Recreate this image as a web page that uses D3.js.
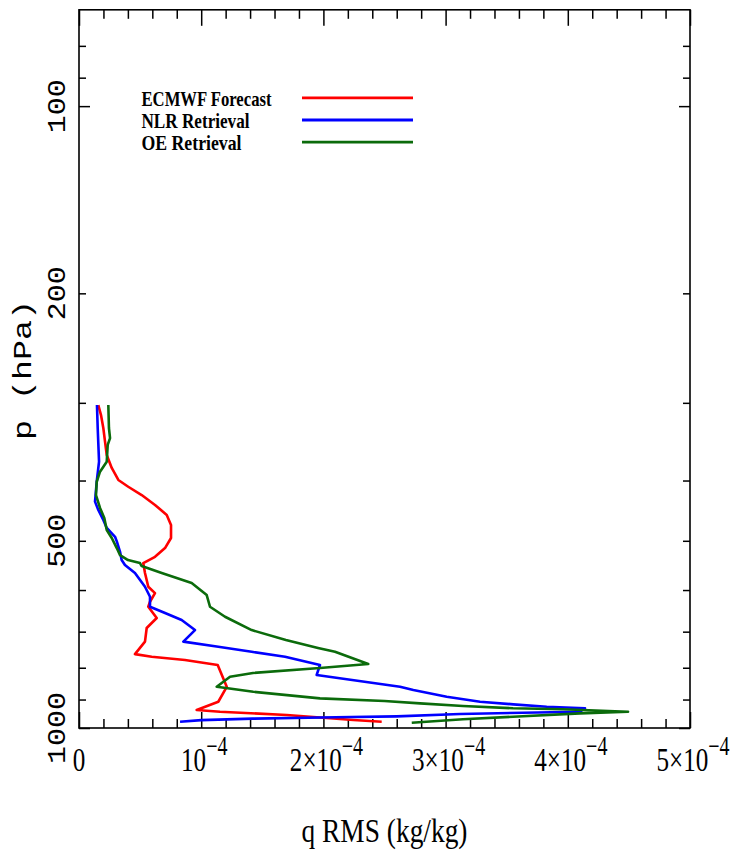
<!DOCTYPE html>
<html>
<head>
<meta charset="utf-8">
<script src="https://cdn.jsdelivr.net/npm/d3@7"></script>
<style>
  html, body { margin: 0; padding: 0; background: #fff; }
  svg { display: block; }
</style>
</head>
<body>
<svg id="chart" width="733" height="851"></svg>
<script>
// Humidity RMS profiles; q values are given in units of 1e-4 kg/kg
const Q_UNIT = 1e-4;

const ecmwfP = [302.5, 313.9, 329.3, 346.4, 363.9, 381.8, 399.2, 409.3, 422.1, 437.8, 454.3, 471.6,
  494.9, 513.6, 530.5, 542.9, 563.4, 592.8, 606.8, 626.6, 638.3, 665.4, 690.6, 726.3, 760.6, 768.0,
  777.6, 792.0, 858.4, 907.4, 935.6, 941.5, 953.0, 970.7, 976.9];
const ecmwfQ = [0.158, 0.180, 0.199, 0.213, 0.227, 0.268, 0.322, 0.403, 0.513, 0.622, 0.718, 0.753,
  0.753, 0.704, 0.622, 0.526, 0.540, 0.567, 0.622, 0.581, 0.567, 0.636, 0.554, 0.540, 0.458, 0.595,
  0.867, 1.135, 1.209, 1.140, 0.963, 1.154, 1.700, 2.245, 2.477];

const nlrP = [302.5, 329.3, 373.0, 401.8, 432.5, 446.0, 462.9, 476.8, 492.6, 501.6, 520.8, 537.0,
  547.0, 563.4, 592.8, 615.1, 638.3, 653.2, 670.3, 695.9, 726.3, 740.1, 754.2, 768.0, 792.0, 821.7,
  858.4, 869.0, 890.6, 907.4, 916.1, 924.2, 929.6, 941.5, 945.0, 949.5, 957.8, 961.1, 966.0, 971.2, 976.9];
const nlrQ = [0.147, 0.153, 0.164, 0.145, 0.131, 0.158, 0.199, 0.227, 0.295, 0.310, 0.336, 0.349,
  0.376, 0.458, 0.540, 0.581, 0.581, 0.704, 0.840, 0.949, 0.854, 1.140, 1.413, 1.686, 1.972, 1.945,
  2.627, 2.736, 3.009, 3.282, 3.554, 3.827, 4.141, 4.100, 3.633, 3.118, 2.600, 2.100, 1.420, 1.000, 0.827];

const oeP = [302.5, 329.3, 341.8, 350.6, 373.0, 387.1, 401.8, 422.1, 442.7, 459.5, 480.3, 494.9,
  513.6, 527.2, 537.0, 542.9, 549.0, 563.4, 584.5, 611.3, 638.3, 662.3, 695.9, 722.0, 743.6, 754.2,
  789.1, 800.8, 815.6, 826.9, 858.4, 874.4, 896.0, 905.0, 912.7, 921.8, 929.6, 933.0, 941.5, 947.2,
  959.0, 968.3, 980.6];
const oeQ = [0.240, 0.245, 0.254, 0.235, 0.227, 0.172, 0.145, 0.139, 0.172, 0.207, 0.227, 0.268,
  0.309, 0.336, 0.401, 0.499, 0.513, 0.677, 0.922, 1.045, 1.072, 1.195, 1.413, 1.693, 1.956, 2.095,
  2.367, 1.972, 1.424, 1.236, 1.127, 1.426, 1.972, 2.500, 2.791, 3.142, 3.552, 3.961, 4.493, 4.100,
  3.552, 3.142, 2.723];

const seriesNames = ["ECMWF Forecast", "NLR Retrieval", "OE Retrieval"];
const seriesColors = ["#ff0000", "#0000ff", "#0b6b0b"];

// Axis ticks and labels
const xMajorTicks = [0, 1e-4, 2e-4, 3e-4, 4e-4, 5e-4];
const xMinorTicks = d3.range(0, 25).map(i => i * 2e-5).filter((v, i) => i % 5 !== 0);
const xTickLabels = ["0", "10^−4", "2×10^−4", "3×10^−4", "4×10^−4", "5×10^−4"];
const yMajorTicks = [100, 1000];
const yMinorTicks = [80, 90, 200, 300, 400, 500, 600, 700, 800, 900];
const yLabelValues = [100, 200, 500, 1000];
const xTitle = "q RMS (kg/kg)";
const yTitle = "p (hPa)";

const svg = d3.select("#chart");
const plotLeft = 79, plotRight = 690, plotTop = 9.8, plotBottom = 728;

const x = d3.scaleLinear().domain([0, 5e-4]).range([plotLeft, plotRight]);
const y = d3.scaleLog().domain([1000, 70]).range([plotBottom, plotTop]);

const series = [
  { name: seriesNames[0], color: seriesColors[0], pts: ecmwfP.map((p, i) => ({ p, q: ecmwfQ[i] * Q_UNIT })) },
  { name: seriesNames[1], color: seriesColors[1], pts: nlrP.map((p, i) => ({ p, q: nlrQ[i] * Q_UNIT })) },
  { name: seriesNames[2], color: seriesColors[2], pts: oeP.map((p, i) => ({ p, q: oeQ[i] * Q_UNIT })) }
];

// Tick marks on all four sides, drawn with d3 axes
function tickAxis(axisGen, transform, values, size) {
  const g = svg.append("g").attr("transform", transform)
    .call(axisGen.tickValues(values).tickSize(size).tickFormat(""));
  g.select(".domain").remove();
  g.selectAll(".tick line").attr("stroke", "#000").attr("stroke-width", 1.5);
}
tickAxis(d3.axisBottom(x), `translate(0,${plotBottom})`, xMinorTicks, -9);
tickAxis(d3.axisBottom(x), `translate(0,${plotBottom})`, xMajorTicks, -16);
tickAxis(d3.axisTop(x), `translate(0,${plotTop})`, xMinorTicks, -9);
tickAxis(d3.axisTop(x), `translate(0,${plotTop})`, xMajorTicks, -16);
tickAxis(d3.axisLeft(y), `translate(${plotLeft},0)`, yMinorTicks, -7);
tickAxis(d3.axisLeft(y), `translate(${plotLeft},0)`, yMajorTicks, -11);
tickAxis(d3.axisRight(y), `translate(${plotRight},0)`, yMinorTicks, -7);
tickAxis(d3.axisRight(y), `translate(${plotRight},0)`, yMajorTicks, -11);

// Frame
svg.append("rect")
  .attr("x", plotLeft).attr("y", plotTop)
  .attr("width", plotRight - plotLeft).attr("height", plotBottom - plotTop)
  .attr("fill", "none").attr("stroke", "#000").attr("stroke-width", 1.6);

// Profiles
const line = d3.line().x(d => x(d.q)).y(d => y(d.p));
svg.append("g").selectAll("path").data(series).join("path")
  .attr("d", d => line(d.pts))
  .attr("fill", "none")
  .attr("stroke", d => d.color)
  .attr("stroke-width", 2.6)
  .attr("stroke-linejoin", "round");

// X tick labels with superscript exponents
const serif = "'Liberation Serif', 'Times New Roman', serif";
xMajorTicks.forEach((v, i) => {
  const parts = xTickLabels[i].split("^");
  const g = svg.append("g")
    .attr("transform", `translate(${x(v) + (parts.length > 1 ? 3 : 0)},771) scale(0.74,1)`);
  const t = g.append("text")
    .attr("text-anchor", "middle")
    .attr("font-family", serif)
    .attr("font-size", 34)
    .attr("fill", "#000");
  t.append("tspan").text(parts[0]);
  if (parts.length > 1) {
    t.append("tspan").attr("dy", -16).attr("font-size", 27).text(parts[1]);
  }
});

// Y tick labels (rotated)
const mono = "'Liberation Mono', 'Courier New', monospace";
svg.append("g").selectAll("text").data(yLabelValues).join("text")
  .attr("transform", d => `translate(65,${y(d)}) rotate(-90)`)
  .attr("text-anchor", "middle")
  .attr("font-family", mono)
  .attr("font-size", 26)
  .attr("textLength", d => String(d).length * 18)
  .attr("lengthAdjust", "spacingAndGlyphs")
  .attr("fill", "#000")
  .text(d => d);

// Axis titles
svg.append("text")
  .attr("x", (plotLeft + plotRight) / 2).attr("y", 842)
  .attr("text-anchor", "middle")
  .attr("font-family", serif)
  .attr("font-size", 34)
  .attr("textLength", 166)
  .attr("lengthAdjust", "spacingAndGlyphs")
  .attr("fill", "#000")
  .text(xTitle);

svg.append("text")
  .attr("transform", "translate(31,370) rotate(-90)")
  .attr("text-anchor", "middle")
  .attr("font-family", mono)
  .attr("font-size", 26)
  .attr("textLength", 140)
  .attr("lengthAdjust", "spacingAndGlyphs")
  .attr("fill", "#000")
  .text(yTitle);

// Legend
const legendWidths = [130, 108, 100];
const legend = svg.append("g").selectAll("g").data(series).join("g")
  .attr("transform", (d, i) => `translate(0,${i * 22.2})`);
legend.append("text")
  .attr("x", 141.5).attr("y", 106)
  .attr("font-family", serif)
  .attr("font-size", 21)
  .attr("font-weight", "bold")
  .attr("textLength", (d, i) => legendWidths[i])
  .attr("lengthAdjust", "spacingAndGlyphs")
  .attr("fill", "#000")
  .text(d => d.name);
legend.append("line")
  .attr("x1", 302).attr("x2", 413)
  .attr("y1", 97.8).attr("y2", 97.8)
  .attr("stroke", d => d.color)
  .attr("stroke-width", 2.8);
</script>
</body>
</html>
